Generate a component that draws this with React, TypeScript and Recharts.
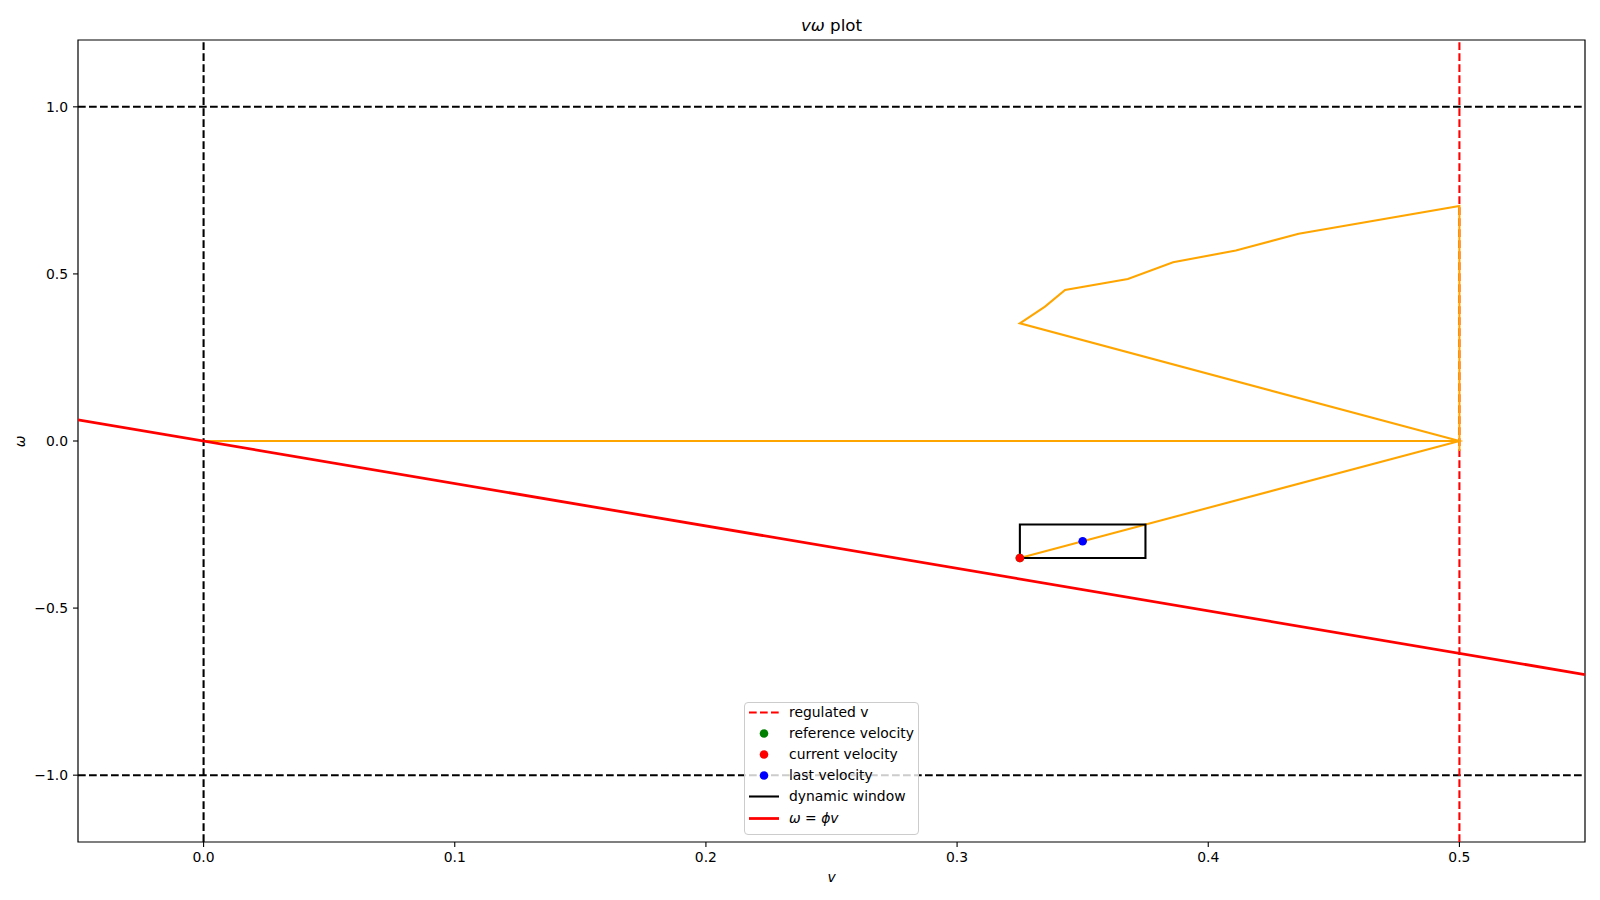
import React from "react";
import { ComposedChart, Scatter, XAxis, YAxis, ReferenceArea } from "recharts";

// axis limits and ticks
const vLimits = [-0.05, 0.55];
const wLimits = [-1.2, 1.2];
const xTicks = [0, 0.1, 0.2, 0.3, 0.4, 0.5];
const yTicks = [-1, -0.5, 0, 0.5, 1];

// velocity trajectory (orange)
const trajV = [0, 0.5, 0.5, 0.5, 0.436, 0.411, 0.386, 0.368, 0.343, 0.335, 0.325, 0.5, 0.325];
const trajW = [0, 0, -0.03, 0.703, 0.62, 0.57, 0.535, 0.485, 0.452, 0.402, 0.352, 0, -0.35];

// dynamic window
const windowV = [0.325, 0.375, 0.375, 0.325, 0.325];
const windowW = [-0.35, -0.35, -0.25, -0.25, -0.35];

// omega = phi * v
const phiV = [-0.05, 0.55];
const phiW = [0.0635, -0.699];

// bounds
const regulatedV = 0.5;
const wBounds = [-1, 1];
const vZero = 0;

const referenceVel = [{ v: 0.325, w: -0.35 }];
const currentVel = [{ v: 0.325, w: -0.35 }];
const lastVel = [{ v: 0.35, w: -0.3 }];

const legendItems = [
    { label: "regulated v", kind: "dash", color: "#FF0000" },
    { label: "reference velocity", kind: "dot", color: "#008000" },
    { label: "current velocity", kind: "dot", color: "#FF0000" },
    { label: "last velocity", kind: "dot", color: "#0000FF" },
    { label: "dynamic window", kind: "line", color: "#000000" },
    { label: "phi", kind: "thick", color: "#FF0000" },
];

const toPoints = (vs: number[], ws: number[]) => vs.map((v, i) => ({ v, w: ws[i] }));

const trajData = toPoints(trajV, trajW);
const windowData = toPoints(windowV, windowW);
const phiData = toPoints(phiV, phiW);
const regulatedData = toPoints([regulatedV, regulatedV], [wLimits[0], wLimits[1]]);
const vZeroData = toPoints([vZero, vZero], [wLimits[0], wLimits[1]]);
const wTopData = toPoints(vLimits, [wBounds[1], wBounds[1]]);
const wBottomData = toPoints(vLimits, [wBounds[0], wBounds[0]]);

const noShape = () => <g />;
const dot = (color: string) => (props: any) => (
    <circle cx={props.cx} cy={props.cy} r={4.3} fill={color} />
);

const fmt = (t: number) => t.toFixed(1).replace("-", "\u2212");
const FONT = "'DejaVu Sans', sans-serif";
const dashed = "7.7 3.3";

function LegendBox() {
    return (
        <div
            style={{
                position: "absolute",
                left: 744,
                top: 702,
                width: 175,
                height: 133,
                boxSizing: "border-box",
                border: "1px solid #cccccc",
                borderRadius: 4,
                background: "rgba(255,255,255,0.8)",
                fontFamily: FONT,
                fontSize: 13.9,
                color: "#000",
            }}
        >
            {legendItems.map((item, i) => (
                <div
                    key={item.label}
                    style={{
                        position: "absolute",
                        left: 0,
                        top: 9.5 + i * 21.1 - 10.5,
                        height: 21,
                        lineHeight: "21px",
                        whiteSpace: "nowrap",
                    }}
                >
                    <svg width={40} height={21} style={{ position: "absolute", left: 0, top: 0 }}>
                        {item.kind === "dot" ? (
                            <circle cx={19} cy={10.5} r={4.3} fill={item.color} />
                        ) : (
                            <line
                                x1={4}
                                x2={34}
                                y1={10.5}
                                y2={10.5}
                                stroke={item.color}
                                strokeWidth={item.kind === "thick" ? 2.78 : 2.08}
                                strokeDasharray={item.kind === "dash" ? dashed : undefined}
                            />
                        )}
                    </svg>
                    <span style={{ position: "absolute", left: 44 }}>
                        {item.kind === "thick" ? (
                            <>
                                <i>ω</i> = <i>ϕv</i>
                            </>
                        ) : (
                            item.label
                        )}
                    </span>
                </div>
            ))}
        </div>
    );
}

export default function App() {
    return (
        <div style={{ position: "absolute", left: 0, top: 0, width: 1600, height: 900, background: "#fff", fontFamily: FONT }}>
            <ComposedChart width={1600} height={900} margin={{ top: 40, right: 15, bottom: 0, left: 0 }}>
                <XAxis
                    type="number"
                    dataKey="v"
                    domain={vLimits}
                    ticks={xTicks}
                    allowDataOverflow
                    height={58}
                    axisLine={false}
                    tickLine={{ stroke: "#000", strokeWidth: 1.1 }}
                    tickSize={5}
                    tickMargin={5}
                    tickFormatter={fmt}
                    tick={{ fontSize: 13.9, fill: "#000", fontFamily: FONT }}
                    interval={0}
                />
                <YAxis
                    type="number"
                    dataKey="w"
                    domain={wLimits}
                    ticks={yTicks}
                    allowDataOverflow
                    width={78}
                    axisLine={false}
                    tickLine={{ stroke: "#000", strokeWidth: 1.1 }}
                    tickSize={5}
                    tickMargin={5}
                    tickFormatter={fmt}
                    tick={{ fontSize: 13.9, fill: "#000", fontFamily: FONT }}
                    interval={0}
                />
                <Scatter data={wTopData} shape={noShape} line={{ stroke: "#000", strokeWidth: 2.08, strokeDasharray: dashed }} isAnimationActive={false} />
                <Scatter data={wBottomData} shape={noShape} line={{ stroke: "#000", strokeWidth: 2.08, strokeDasharray: dashed }} isAnimationActive={false} />
                <Scatter data={vZeroData} shape={noShape} line={{ stroke: "#000", strokeWidth: 2.08, strokeDasharray: dashed }} isAnimationActive={false} />
                <Scatter data={regulatedData} shape={noShape} line={{ stroke: "#FF0000", strokeWidth: 2.08, strokeDasharray: dashed }} isAnimationActive={false} />
                <Scatter data={trajData} shape={noShape} line={{ stroke: "#FFA500", strokeWidth: 2.08 }} isAnimationActive={false} />
                <Scatter data={windowData} shape={noShape} line={{ stroke: "#000", strokeWidth: 2.08 }} isAnimationActive={false} />
                <Scatter data={referenceVel} shape={dot("#008000")} isAnimationActive={false} />
                <Scatter data={currentVel} shape={dot("#FF0000")} isAnimationActive={false} />
                <Scatter data={lastVel} shape={dot("#0000FF")} isAnimationActive={false} />
                <Scatter data={phiData} shape={noShape} line={{ stroke: "#FF0000", strokeWidth: 2.78 }} isAnimationActive={false} />
                <ReferenceArea
                    x1={vLimits[0]}
                    x2={vLimits[1]}
                    y1={wLimits[0]}
                    y2={wLimits[1]}
                    fill="none"
                    stroke="#000"
                    strokeWidth={1.2}
                    ifOverflow="visible"
                />
            </ComposedChart>
            <svg width={1600} height={900} style={{ position: "absolute", left: 0, top: 0, pointerEvents: "none" }}>
                <text x={831.5} y={31} textAnchor="middle" fontSize={16.7} fontFamily={FONT} fill="#000">
                    <tspan fontStyle="italic">vω</tspan>
                    <tspan>{"\u00a0plot"}</tspan>
                </text>
                <text x={831.5} y={881.5} textAnchor="middle" fontSize={13.9} fontFamily={FONT} fontStyle="italic" fill="#000">
                    v
                </text>
                <text
                    x={25}
                    y={441.5}
                    transform="rotate(-90, 25, 441.5)"
                    textAnchor="middle"
                    fontSize={13.9}
                    fontFamily={FONT}
                    fontStyle="italic"
                    fill="#000"
                >
                    ω
                </text>
            </svg>
            <LegendBox />
        </div>
    );
}
